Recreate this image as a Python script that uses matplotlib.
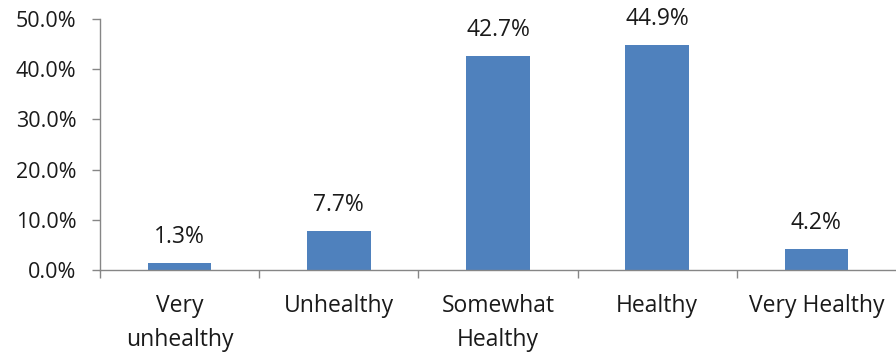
import matplotlib
matplotlib.use("Agg")
import matplotlib.pyplot as plt
from matplotlib.ticker import FixedLocator, PercentFormatter
import numpy as np

categories = ["Very\nunhealthy", "Unhealthy", "Somewhat\nHealthy", "Healthy", "Very Healthy"]
values = [1.3, 7.7, 42.7, 44.9, 4.2]
value_labels = ["1.3%", "7.7%", "42.7%", "44.9%", "4.2%"]
yticks = [0, 10, 20, 30, 40, 50]

plt.rcParams['font.family'] = ['Open Sans', 'DejaVu Sans']

fig = plt.figure(figsize=(8.96, 3.56), dpi=100)
ax = fig.add_axes([100/896, (356-270)/356, 1 - 100/896, (270-19)/356])

x = np.arange(len(categories))
bar_color = "#4F81BD"
ax.bar(x, values, width=0.4, color=bar_color, zorder=2)

FS = 16.5
TXT = "#1a1a1a"
for xi, v, lab in zip(x, values, value_labels):
    ax.annotate(lab, (xi, v), xytext=(0, 14), textcoords="offset pixels",
                ha="center", va="bottom", fontsize=FS, color=TXT)

ax.set_xlim(-0.5, len(categories) - 0.5)
ax.set_ylim(0, 50)
ax.set_yticks(yticks)
ax.yaxis.set_major_formatter(PercentFormatter(decimals=1))

ax.set_xticks(x)
ax.set_xticklabels(categories, linespacing=1.55)
ax.tick_params(axis="x", which="major", length=0, pad=17, labelsize=FS, labelcolor=TXT)
ax.xaxis.set_minor_locator(FixedLocator(np.arange(len(categories)) - 0.5))
ax.tick_params(axis="x", which="minor", length=6, color="#868686", width=1)
ax.tick_params(axis="y", length=6, color="#868686", width=1, labelsize=15.5, labelcolor=TXT, pad=11)

for s in ["top", "right"]:
    ax.spines[s].set_visible(False)
for s in ["left", "bottom"]:
    ax.spines[s].set_color("#868686")
    ax.spines[s].set_linewidth(1)

fig.savefig("out.png", dpi=100)
